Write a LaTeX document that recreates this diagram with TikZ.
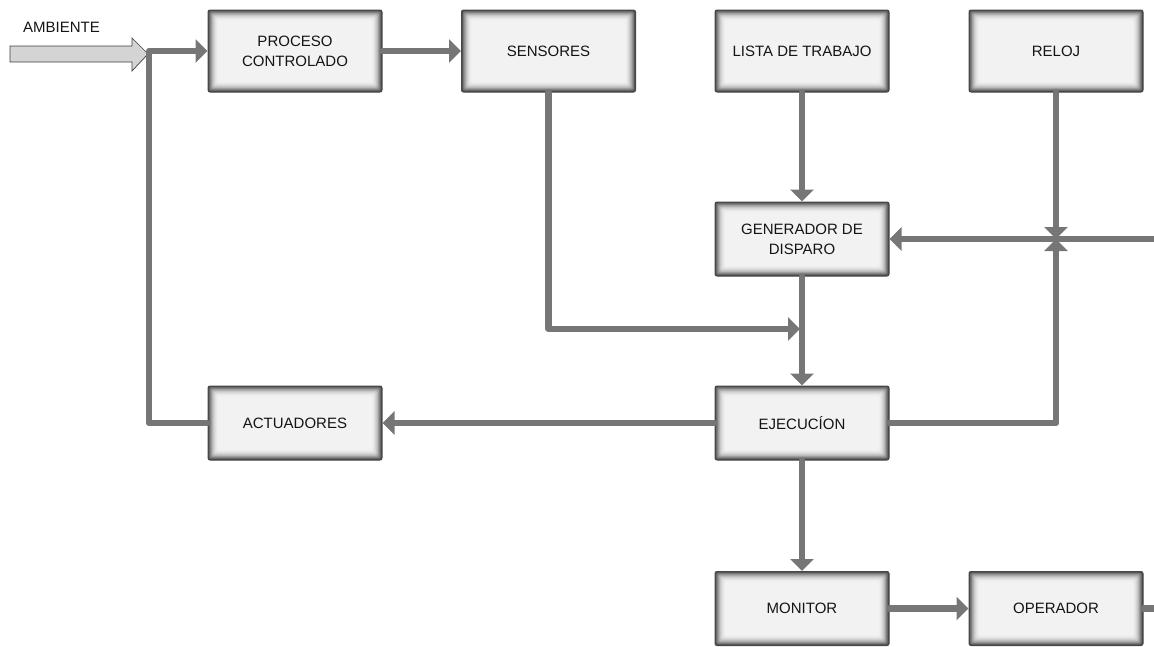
\documentclass[tikz,border=0pt]{standalone}
\usepackage{fontspec}
\setmainfont{Liberation Sans}
\usetikzlibrary{arrows.meta}
\definecolor{linegray}{RGB}{118,118,118}
\definecolor{ambfill}{RGB}{212,212,212}
\definecolor{txt}{RGB}{20,20,20}
\tikzset{
  boxshade/.style={path picture={
    \foreach \i/\c in {0/72,1/62,2/52,3/43,4/35,5/28,6/22,7/17,8/13,9/10,10/7.5,11/6,12/5} {
      \fill[black!\c, rounded corners=2pt]
        ([xshift=\i*0.85pt, yshift=\i*0.85pt]path picture bounding box.south west)
        rectangle
        ([xshift=-\i*0.85pt, yshift=-\i*0.85pt]path picture bounding box.north east);
    }}},
  box/.style={boxshade, minimum width=174pt, minimum height=74pt, inner sep=0pt,
    align=center, font=\fontsize{15}{20}\selectfont, text=txt,
    rounded corners=2pt, fill=black!4, draw=black!72, line width=1pt},
  tall/.style={minimum height=82pt},
  conn/.style={draw=linegray, line width=6.5pt, line cap=round, line join=round},
  arr/.style={-{Triangle[length=12pt,width=23pt]}},
  lbl/.style={font=\fontsize{15}{18}\selectfont, text=txt, inner sep=0pt},
}
\begin{document}
\begin{tikzpicture}[x=1pt,y=-1pt]
\useasboundingbox (0,0) rectangle (1154,646);
\clip (0,0) rectangle (1154,646);

% ambient input arrow
\draw[fill=ambfill, draw=black!75, line width=0.7pt]
  (10,46) -- (132,46) -- (132,38) -- (148,54) -- (132,71) -- (132,62) -- (10,62) -- cycle;
\node[lbl, anchor=base west] (amb) at (23,32) {AMBIENTE};

% boxes
\node[box,tall] (proc)  at (295,51)    {PROCESO\\CONTROLADO};
\node[box,tall] (sens)  at (548.5,51)  {SENSORES};
\node[box,tall] (lista) at (802,51)    {LISTA DE TRABAJO};
\node[box,tall] (reloj) at (1056,51)   {RELOJ};
\node[box]      (gen)   at (802,239)   {GENERADOR DE\\DISPARO};
\node[box]      (ejec)  at (802,423)   {EJECUCÍON};
\node[box]      (act)   at (295,423)   {ACTUADORES};
\node[box]      (mon)   at (802,608.5) {MONITOR};
\node[box]      (oper)  at (1056,608.5){OPERADOR};

% junction points
\coordinate (jl) at (149,51);
\coordinate (js) at (800,329);
\coordinate (jr) at (1056,239);
\coordinate (jo) at (1157,239);

% connectors
\draw[conn,arr] (act.west) -| (jl) -- (proc.west);
\draw[conn,arr] (proc.east) -- (sens.west);
\draw[conn,arr] (sens.south) |- (js);
\draw[conn,arr] (lista.south) -- (gen.north);
\draw[conn,arr] (gen.south) -- (ejec.north);
\draw[conn,arr] (reloj.south) -- (jr);
\draw[conn,arr] (ejec.east) -| (jr);
\draw[conn,arr] (oper.east) -| (jo) -- (gen.east);
\draw[conn,arr] (ejec.west) -- (act.east);
\draw[conn,arr] (ejec.south) -- (mon.north);
\draw[conn,arr] (mon.east) -- (oper.west);
\end{tikzpicture}
\end{document}
